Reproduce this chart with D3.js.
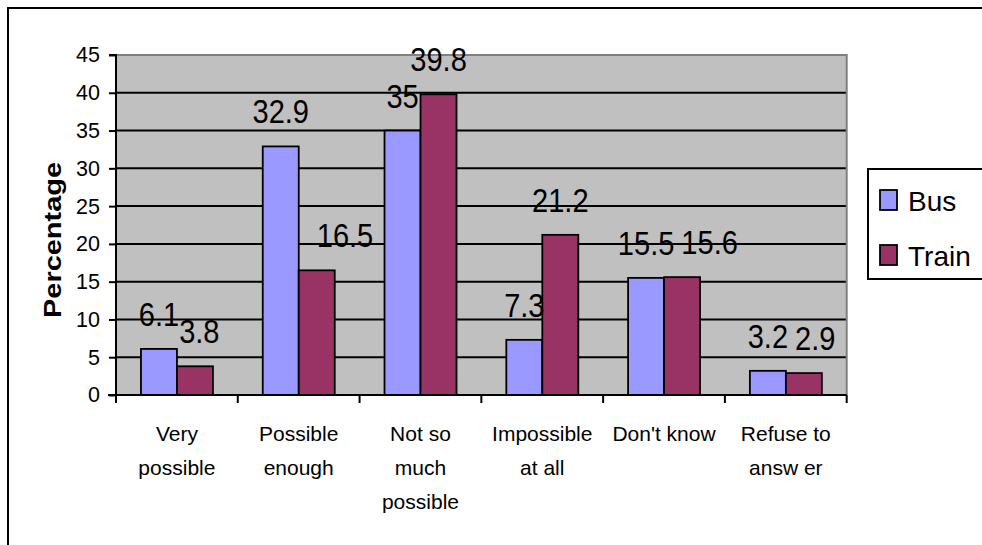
<!DOCTYPE html>
<html>
<head>
<meta charset="utf-8">
<script src="https://cdn.jsdelivr.net/npm/d3@7/dist/d3.min.js"></script>
<style>
  html, body { margin: 0; padding: 0; background: #fff; }
  svg { display: block; font-family: "Liberation Sans", Arial, sans-serif; }
</style>
</head>
<body>
<script>
// Survey answers, percentage of respondents by transport mode
const categories = [
  ["Very", "possible"],
  ["Possible", "enough"],
  ["Not so", "much", "possible"],
  ["Impossible", "at all"],
  ["Don't know"],
  ["Refuse to", "answ er"]
];
const seriesNames = ["Bus", "Train"];
const busValues = [6.1, 32.9, 35, 7.3, 15.5, 3.2];
const trainValues = [3.8, 16.5, 39.8, 21.2, 15.6, 2.9];
const yTicks = [0, 5, 10, 15, 20, 25, 30, 35, 40, 45];
const colors = { Bus: "#9999FF", Train: "#993366" };

const W = 982, H = 545;
const plot = { left: 116, right: 846.7, top: 55, bottom: 395 };

const svg = d3.select("body").append("svg").attr("width", W).attr("height", H);

// outer chart frame
svg.append("rect")
  .attr("x", 8).attr("y", 8).attr("width", 1100).attr("height", 700)
  .attr("fill", "#fff").attr("stroke", "#000").attr("stroke-width", 2);

const catKeys = categories.map((c, i) => i);
const x0 = d3.scaleBand().domain(catKeys).range([plot.left, plot.right]).padding(0);
const bw = x0.bandwidth();
const x1 = d3.scaleBand().domain(seriesNames).range([bw * 0.205, bw * 0.205 + 72 / 121.8 * bw]).padding(0);
const y = d3.scaleLinear().domain([0, 45]).range([plot.bottom, plot.top]);

// plot background
svg.append("rect")
  .attr("x", plot.left).attr("y", plot.top)
  .attr("width", plot.right - plot.left).attr("height", plot.bottom - plot.top)
  .attr("fill", "#C0C0C0");

// horizontal gridlines
svg.append("g").selectAll("line")
  .data(yTicks.filter(t => t > 0 && t < 45))
  .join("line")
  .attr("x1", plot.left).attr("x2", plot.right)
  .attr("y1", d => y(d)).attr("y2", d => y(d))
  .attr("stroke", "#000").attr("stroke-width", 2);

// top and right plot edges
svg.append("path")
  .attr("d", `M${plot.left},${y(45)}H${plot.right}V${plot.bottom}`)
  .attr("fill", "none").attr("stroke", "#808080").attr("stroke-width", 2);

// bars
const rows = catKeys.map(i => ({ i, Bus: busValues[i], Train: trainValues[i] }));
const groups = svg.append("g").selectAll("g")
  .data(rows).join("g")
  .attr("transform", d => `translate(${x0(d.i)},0)`);

groups.selectAll("rect")
  .data(d => seriesNames.map(s => ({ s, v: d[s] })))
  .join("rect")
  .attr("x", d => x1(d.s)).attr("width", x1.bandwidth())
  .attr("y", d => y(d.v)).attr("height", d => y(0) - y(d.v))
  .attr("fill", d => colors[d.s])
  .attr("stroke", "#000").attr("stroke-width", 1.8);

// value labels, centred over each bar. A Train label that would sit on the
// taller Bus bar is moved clear of it, and one that would run into the Bus
// label beside it is pushed to the right.
const SX = 0.88;
groups.each(function (row) {
  const g = d3.select(this);
  const labels = g.selectAll("text")
    .data(d => seriesNames.map(s => ({ s, v: d[s] })))
    .join("text")
    .attr("text-anchor", "middle")
    .attr("font-size", 33)
    .attr("fill", "#000")
    .text(d => String(d.v));
  labels.each(function (d) {
    d.w = this.getComputedTextLength() * SX;
    d.cx = x1(d.s) + x1.bandwidth() / 2;
    d.by = y(d.v) - 23;
  });
  const [a, b] = labels.data();
  // clear the neighbouring taller bar
  const busRight = x1("Bus") + x1.bandwidth();
  if (b.by > y(a.v) && b.cx - b.w / 2 < busRight) {
    b.cx = busRight + 18 + b.w / 2;
  }
  // keep apart from the neighbouring label
  const dy = Math.abs(a.by - b.by);
  if (dy < 24) {
    const gap = dy < 12 ? 7 : 0;
    const overlap = (a.cx + a.w / 2 + gap) - (b.cx - b.w / 2);
    if (overlap > 0) b.cx += overlap;
  }
  labels.attr("transform", d => `translate(${d.cx},${d.by}) scale(${SX},1)`);
});

// y axis
const yAxis = d3.axisLeft(y).tickValues(yTicks).tickSize(7).tickPadding(9).tickFormat(d3.format("d"));
const gy = svg.append("g").attr("transform", `translate(${plot.left},0)`).call(yAxis);
gy.select(".domain").attr("stroke", "#000").attr("stroke-width", 2).attr("d", `M-7,${y(0)}H0V${y(45)}H-7`);
gy.selectAll(".tick line").attr("stroke", "#000").attr("stroke-width", 2);
gy.selectAll(".tick text").attr("font-size", 21.5).attr("fill", "#000")
  .attr("font-family", "Liberation Sans, Arial, sans-serif");

// x axis: ticks at category boundaries
const boundaries = d3.range(categories.length + 1).map(i => plot.left + i * bw);
svg.append("line")
  .attr("x1", plot.left - 8).attr("x2", plot.right)
  .attr("y1", plot.bottom).attr("y2", plot.bottom)
  .attr("stroke", "#000").attr("stroke-width", 2);
svg.append("g").selectAll("line")
  .data(boundaries).join("line")
  .attr("x1", d => d).attr("x2", d => d)
  .attr("y1", plot.bottom).attr("y2", plot.bottom + 8)
  .attr("stroke", "#000").attr("stroke-width", 2);

// category labels
const catText = svg.append("g").selectAll("text")
  .data(categories.map((lines, i) => ({ lines, i })))
  .join("text")
  .attr("text-anchor", "middle")
  .attr("font-size", 21)
  .attr("fill", "#000")
  .attr("transform", d => `translate(${x0(d.i) + bw / 2},441)`);
catText.selectAll("tspan")
  .data(d => d.lines)
  .join("tspan")
  .attr("x", 0)
  .attr("y", (d, j) => j * 34)
  .text(d => d);

// y axis title
svg.append("text")
  .attr("transform", `translate(61,240) rotate(-90)`)
  .attr("text-anchor", "middle")
  .attr("font-size", 23)
  .attr("font-weight", "bold")
  .attr("textLength", 156)
  .attr("lengthAdjust", "spacingAndGlyphs")
  .attr("fill", "#000")
  .text("Percentage");

// legend
const legend = svg.append("g");
legend.append("rect")
  .attr("x", 868).attr("y", 169).attr("width", 200).attr("height", 110)
  .attr("fill", "#fff").attr("stroke", "#000").attr("stroke-width", 2);
const li = legend.selectAll("g.item")
  .data(seriesNames).join("g")
  .attr("class", "item")
  .attr("transform", (d, i) => `translate(880,${190 + i * 55})`);
li.append("rect")
  .attr("width", 17).attr("height", 20)
  .attr("fill", d => colors[d]).attr("stroke", "#000").attr("stroke-width", 1.8);
li.append("text")
  .attr("x", 28).attr("y", 21)
  .attr("font-size", 28)
  .attr("fill", "#000")
  .text(d => d);
</script>
</body>
</html>
